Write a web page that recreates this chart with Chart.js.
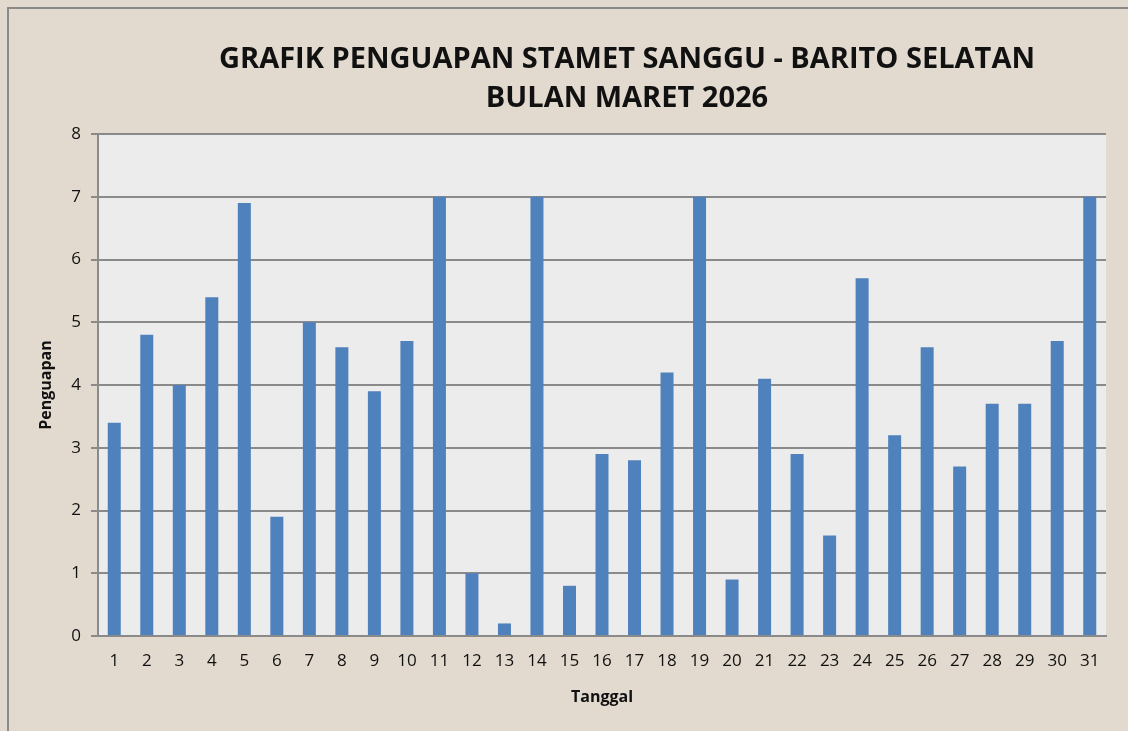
<!DOCTYPE html>
<html>
<head>
<meta charset="utf-8">
<script src="https://cdn.jsdelivr.net/npm/chart.js@4.4.1/dist/chart.umd.min.js"></script>
<style>
    html, body { margin: 0; padding: 0; background: #e2dace; }
    #wrap { width: 1128px; height: 731px; }
</style>
</head>
<body>
<div id="wrap"><canvas id="penguapanChart" width="1128" height="731"></canvas></div>
<script>
// Data penguapan harian (mm) - Maret 2026
const tanggal = ['1','2','3','4','5','6','7','8','9','10','11','12','13','14','15','16',
                 '17','18','19','20','21','22','23','24','25','26','27','28','29','30','31'];
const penguapan = [3.4, 4.8, 4.0, 5.4, 6.9, 1.9, 5.0, 4.6, 3.9, 4.7, 7.0, 1.0, 0.2, 7.0, 0.8, 2.9,
                   2.8, 4.2, 7.0, 0.9, 4.1, 2.9, 1.6, 5.7, 3.2, 4.6, 2.7, 3.7, 3.7, 4.7, 7.0];
const judul = ['GRAFIK PENGUAPAN STAMET SANGGU - BARITO SELATAN', 'BULAN MARET 2026'];

const fontFamily = '"Open Sans", "Liberation Sans", sans-serif';

// Background, plot area & title
const backgroundPlugin = {
    id: 'backgroundPlugin',
    beforeDraw(chart) {
        const { ctx, chartArea } = chart;
        ctx.save();
        ctx.fillStyle = '#e2dace';
        ctx.fillRect(0, 0, chart.width, chart.height);
        ctx.strokeStyle = '#8a8a8a';
        ctx.lineWidth = 2;
        ctx.strokeRect(8, 8, chart.width + 50, chart.height + 50);
        ctx.fillStyle = '#ececec';
        ctx.fillRect(chartArea.left, chartArea.top, chartArea.right - chartArea.left, chartArea.bottom - chartArea.top);

        ctx.fillStyle = '#111';
        ctx.font = 'bold 29px ' + fontFamily;
        ctx.textAlign = 'center';
        ctx.textBaseline = 'middle';
        ctx.fillText(judul[0], 627, 60);
        ctx.fillText(judul[1], 627, 99);
        ctx.restore();
    }
};

const ctx = document.getElementById('penguapanChart');
new Chart(ctx, {
    type: 'bar',
    data: {
        labels: tanggal,
        datasets: [{
            label: 'Penguapan',
            data: penguapan,
            backgroundColor: '#4f81bd',
            barPercentage: 0.4,
            categoryPercentage: 1.0
        }]
    },
    options: {
        responsive: false,
        animation: false,
        layout: {
            padding: { left: 10, right: 22, top: 134, bottom: 10 }
        },
        plugins: {
            legend: { display: false },
            tooltip: { enabled: false }
        },
        scales: {
            x: {
                grid: { display: false, drawTicks: false },
                border: { color: '#8a8a8a', width: 2 },
                ticks: {
                    color: '#111',
                    padding: 15,
                    font: { family: fontFamily, size: 17 },
                    maxRotation: 0,
                    autoSkip: false
                },
                title: {
                    display: true,
                    text: 'Tanggal',
                    color: '#111',
                    font: { family: fontFamily, size: 16, weight: 'bold' },
                    padding: { top: 0, bottom: 14 }
                },
                afterFit(scale) { scale.height = 85; }
            },
            y: {
                min: 0,
                max: 8,
                ticks: {
                    stepSize: 1,
                    color: '#111',
                    padding: 10,
                    font: { family: fontFamily, size: 17 }
                },
                grid: {
                    color: '#8a8a8a',
                    lineWidth: 2,
                    tickLength: 7
                },
                border: { color: '#8a8a8a', width: 2 },
                title: {
                    display: true,
                    text: 'Penguapan',
                    color: '#111',
                    font: { family: fontFamily, size: 16, weight: 'bold' },
                    padding: { top: 27, bottom: 0 }
                },
                afterFit(scale) { scale.width = 88; }
            }
        }
    },
    plugins: [backgroundPlugin]
});
</script>
</body>
</html>
